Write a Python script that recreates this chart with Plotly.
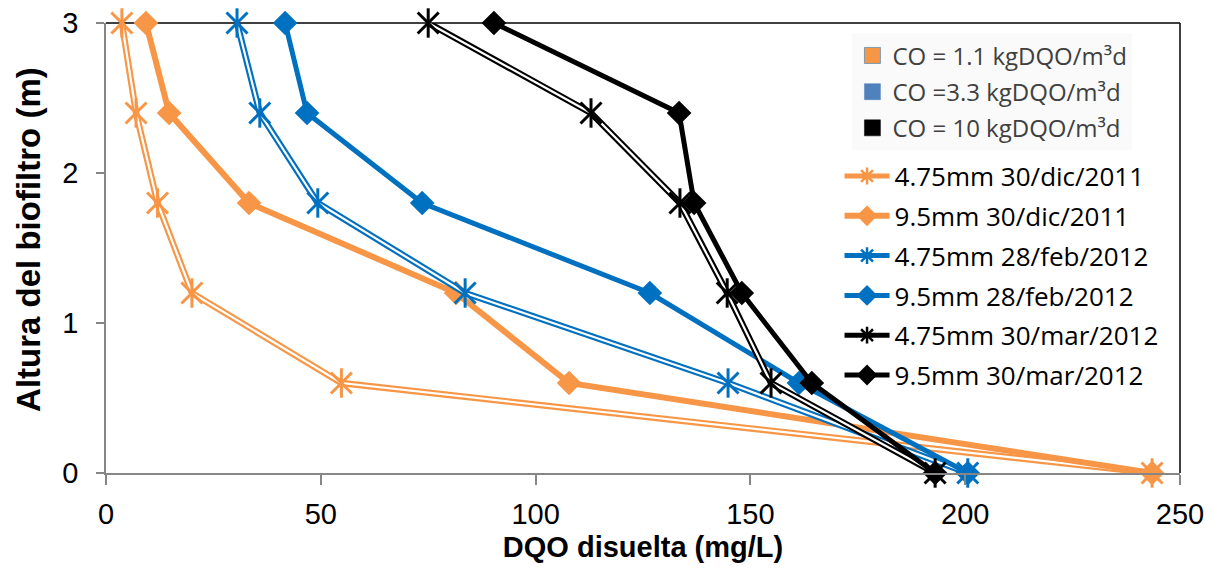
import plotly.graph_objects as go

heights = [3, 2.4, 1.8, 1.2, 0.6, 0]

dqo_475_dic = [3.7, 7.0, 12.0, 20.0, 54.8, 243.5]
dqo_95_dic = [9.3, 14.7, 33.3, 81.5, 107.8, 243.5]
dqo_475_feb = [30.5, 35.8, 49.3, 83.6, 144.8, 200.6]
dqo_95_feb = [41.7, 46.8, 73.6, 126.6, 161.3, 200.6]
dqo_475_mar = [75.0, 112.9, 133.6, 144.6, 154.8, 193.0]
dqo_95_mar = [90.3, 133.4, 136.9, 148.0, 164.3, 193.0]

series_names = ["4.75mm 30/dic/2011", "9.5mm 30/dic/2011", "4.75mm 28/feb/2012",
                "9.5mm 28/feb/2012", "4.75mm 30/mar/2012", "9.5mm 30/mar/2012"]
co_names = ["CO = 1.1 kgDQO/m³d", "CO =3.3 kgDQO/m³d", "CO = 10 kgDQO/m³d"]

x_ticks = [0, 50, 100, 150, 200, 250]
y_ticks = [0, 1, 2, 3]

ORANGE = "#F79646"
BLUE = "#0070C0"
BLACK = "#000000"

fig = go.Figure()

def add_double(xs, color, name, group):
    fig.add_trace(go.Scatter(x=xs, y=heights, mode="lines", line=dict(color=color, width=6.5),
                             showlegend=False, legendgroup=group, cliponaxis=False, hoverinfo="skip"))
    fig.add_trace(go.Scatter(x=xs, y=heights, mode="lines", line=dict(color="white", width=2.2),
                             showlegend=False, legendgroup=group, cliponaxis=False, hoverinfo="skip"))
    fig.add_trace(go.Scatter(x=xs, y=heights, mode="markers",
                             marker=dict(symbol="x-thin-open", size=21, color=color, line=dict(width=3)),
                             showlegend=False, legendgroup=group, cliponaxis=False, hoverinfo="skip"))
    fig.add_trace(go.Scatter(x=xs, y=heights, mode="markers",
                             marker=dict(symbol="line-ns-open", size=21, color=color, line=dict(width=3)),
                             showlegend=False, legendgroup=group, cliponaxis=False, name=name))
    fig.add_trace(go.Scatter(x=[None], y=[None], mode="lines+markers", name=name, legendgroup=group,
                             line=dict(color=color, width=5),
                             marker=dict(symbol="asterisk-open", size=14, color=color, line=dict(width=2.5)),
                             legend="legend"))

def add_thick(xs, color, name, group, width):
    fig.add_trace(go.Scatter(x=xs, y=heights, mode="lines+markers", name=name, legendgroup=group,
                             line=dict(color=color, width=width),
                             marker=dict(symbol="diamond", size=19, color=color),
                             cliponaxis=False, legend="legend"))

add_double(dqo_475_dic, ORANGE, series_names[0], "g1")
add_thick(dqo_95_dic, ORANGE, series_names[1], "g2", 6)
add_double(dqo_475_feb, BLUE, series_names[2], "g3")
add_thick(dqo_95_feb, BLUE, series_names[3], "g4", 5)
add_double(dqo_475_mar, BLACK, series_names[4], "g5")
add_thick(dqo_95_mar, BLACK, series_names[5], "g6", 5)

co_colors = [ORANGE, "#4F81BD", BLACK]
co_lines = [BLUE, "#4F81BD", BLACK]
for i, (n, c, lc) in enumerate(zip(co_names, co_colors, co_lines)):
    fig.add_trace(go.Scatter(x=[None], y=[None], mode="markers", name=n, legendgroup=f"co{i}",
                             marker=dict(symbol="square", size=16, color=c, line=dict(color=lc, width=0.5)),
                             legend="legend2"))

fig.update_layout(
    width=1215, height=569,
    margin=dict(l=106, r=35, t=23, b=96),
    paper_bgcolor="white", plot_bgcolor="white",
    font=dict(family="Liberation Sans, Arial", color="black"),
    showlegend=True,
    legend=dict(x=0.683, y=0.712, xanchor="left", yanchor="top",
                font=dict(family="Open Sans", size=26, color="black"),
                bgcolor="rgba(0,0,0,0)", traceorder="grouped", tracegroupgap=3,
                itemwidth=45),
    legend2=dict(x=0.695, y=0.977, xanchor="left", yanchor="top",
                 font=dict(family="Open Sans", size=24, color="#404040"),
                 bgcolor="#FAFAFA", itemwidth=30, traceorder="grouped", tracegroupgap=2),
    shapes=[
        dict(type="line", xref="paper", yref="paper", x0=0, x1=1, y0=1, y1=1,
             line=dict(color="black", width=1.5), layer="below"),
        dict(type="line", xref="paper", yref="paper", x0=1, x1=1, y0=0, y1=1,
             line=dict(color="black", width=1.5), layer="below"),
    ],
    annotations=[
        dict(text="Altura del biofiltro (m)", xref="paper", yref="paper", x=0, y=0.518,
             xanchor="center", yanchor="middle", xshift=-77, textangle=-90, showarrow=False,
             font=dict(size=33, family="Liberation Sans, Arial", weight="bold", color="black")),
    ],
)

fig.update_xaxes(range=[0, 250], tickvals=x_ticks, ticks="outside", ticklen=10, tickwidth=1.5,
                 tickcolor="#868686", showline=True, linecolor="#868686", linewidth=1.5,
                 showgrid=False, zeroline=False, ticklabelstandoff=4, automargin=False,
                 tickfont=dict(size=29, family="Liberation Sans, Arial"),
                 title=dict(text="DQO disuelta (mg/L)", standoff=8,
                            font=dict(size=29, family="Liberation Sans, Arial", weight="bold")))
fig.update_yaxes(range=[0, 3], tickvals=y_ticks, ticks="outside", ticklen=8, tickwidth=1.5,
                 tickcolor="#868686", showline=True, linecolor="#868686", linewidth=1.5,
                 showgrid=False, zeroline=False, ticklabelstandoff=12, automargin=False,
                 tickfont=dict(size=29, family="Liberation Sans, Arial"))

fig.write_html("out.html", post_script="document.body.style.margin='0';",
               config={"displayModeBar": False})
